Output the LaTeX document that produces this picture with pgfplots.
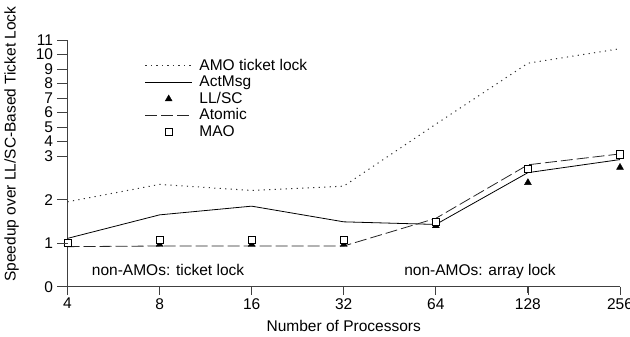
\documentclass[border=0pt]{standalone}
\usepackage{fontspec}
\setmainfont{Liberation Sans}
\usepackage{pgfplots}
\pgfplotsset{compat=1.18}
\usetikzlibrary{calc}
\begin{document}
\begin{tikzpicture}[font=\fontsize{15.5bp}{17bp}\selectfont]
\begin{axis}[
  name=ax,
  scale only axis,
  width=552.5bp, height=246.7bp,
  xmode=log, log basis x=2,
  xmin=4, xmax=256,
  ymin=0, ymax=11,
  y coord trafo/.code={\pgfmathparse{min(#1,3)+max(#1-3,0)/3}},
  y coord inv trafo/.code={\pgfmathparse{min(#1,3)+3*max(#1-3,0)}},
  xtick={4,8,16,32,64,128,256},
  xticklabels={4,8,16,32,64,128,256},
  ytick={0,1,2,3,4,5,6,7,8,9,10,11},
  yticklabels={0,1,2,3,4,5,6,7,8,9,10,11},
  minor tick num=0,
  axis lines*=left,
  axis line style={draw=black!75, line width=0.8bp, -},
  major tick length=8bp,
  every tick/.style={black!75, line width=0.8bp},
  tick align=outside,
  y tick label style={xshift=-3bp},
  /pgf/number format/assume math mode=true,
  xlabel={Number of Processors},
  xlabel style={yshift=-4bp},
  clip=false,
  legend cell align=left,
  legend image code/.code={\draw[mark repeat=2,mark phase=2,#1] plot coordinates {(0bp,0bp) (23.3bp,0bp) (46.6bp,0bp)};},
  legend style={draw=none, fill=none, at={(rel axis cs:0.1343,0.933)}, anchor=north west,
    nodes={inner sep=0pt, text height=11.5bp, text depth=3bp}, row sep=2bp, column sep=7bp},
]
\addplot[black!80, line width=1bp, dash pattern=on 1.2bp off 4.3bp, no marks] coordinates {
 (4,1.95)(8,2.35)(16,2.21)(32,2.31)(64,5.2)(128,9.4)(256,10.4)};
\addlegendentry{AMO ticket lock}
\addplot[black, line width=0.8bp, no marks] coordinates {
 (4,1.11)(8,1.65)(16,1.85)(32,1.49)(64,1.43)(128,2.62)(256,2.92)};
\addlegendentry{ActMsg}
\addplot[only marks, mark=triangle*, mark size=4bp, mark options={fill=black, draw=black}] coordinates {
 (4,1.0)(8,0.97)(16,0.97)(32,0.97)(64,1.40)(128,2.39)(256,2.74)};
\addlegendentry{LL/SC}
\addplot[black!85, line width=0.8bp, dash pattern=on 12bp off 4bp, no marks] coordinates {
 (4,0.92)(8,0.935)(16,0.935)(32,0.935)(64,1.57)(128,2.80)(256,3.15)};
\addlegendentry{Atomic}
\addplot[only marks, mark=square*, mark size=3.6bp, mark options={fill=white, draw=black, line width=0.7bp}] coordinates {
 (4,1.0)(8,1.07)(16,1.07)(32,1.07)(64,1.49)(128,2.70)(256,3.12)};
\addlegendentry{MAO}
\node[anchor=base] at (rel axis cs:0.182,0.0474) {non-AMOs: ticket lock};
\node[anchor=base] at (rel axis cs:0.7466,0.0474) {non-AMOs: array lock};
\node[rotate=90, anchor=center] at ([xshift=-56bp]rel axis cs:0,0.578) {Speedup over LL/SC-Based Ticket Lock};
\end{axis}
\foreach \i in {0,1,2,3,4,5,6}{
  \draw[black!75, line width=0.9bp] ($(ax.south west)!\i/6!(ax.south east)$) -- ++(0bp,-6.5bp);
}
\foreach \v in {0,1,2,3}{
  \draw[black!75, line width=0.9bp] ($(ax.south west)!\v/5.6667!(ax.north west)$) -- ++(-10bp,0bp);
}
\foreach \v in {4,5,6,7,8,9,10,11}{
  \draw[black!75, line width=0.9bp] ($(ax.south west)!{(3+(\v-3)/3)/5.6667}!(ax.north west)$) -- ++(-10bp,0bp);
}
\draw[black!75, line width=0.9bp] (ax.south west) -- ++(0bp,-5bp);
\pgfresetboundingbox
\path[use as bounding box] ([xshift=-67.5bp,yshift=-50.3bp]ax.south west) rectangle ([xshift=10bp,yshift=40bp]ax.north east);
\end{tikzpicture}
\end{document}
